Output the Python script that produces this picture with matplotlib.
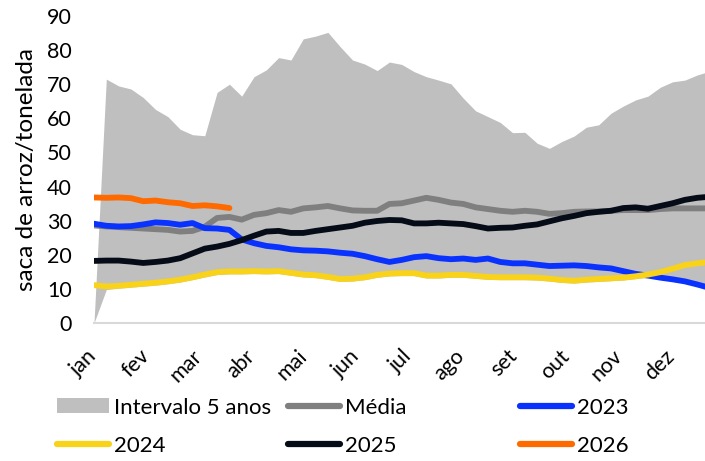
import matplotlib
matplotlib.use("Agg")
import matplotlib.pyplot as plt
from matplotlib.patches import Patch
from matplotlib.lines import Line2D
import numpy as np

plt.rcParams['font.family'] = ['Lato', 'DejaVu Sans']

# ---------------- data (weekly, starting at first week of jan) ----------------
months = ["jan", "fev", "mar", "abr", "mai", "jun", "jul", "ago", "set", "out", "nov", "dez"]

band_upper = [0, 71.5, 69.5, 68.6, 66.1, 62.6, 60.5, 56.8, 55.2, 54.9, 67.6, 70.0, 66.5,
              72.2, 74.2, 77.8, 77.1, 83.3, 84.1, 85.2, 81.0, 77.1, 75.9, 74.0, 76.5, 75.8,
              73.7, 72.2, 71.2, 70.1, 65.9, 62.2, 60.5, 58.8, 55.8, 55.9, 52.7, 51.2, 53.2,
              54.8, 57.4, 58.1, 61.5, 63.6, 65.4, 66.5, 69.1, 70.7, 71.2, 72.7, 73.8]
band_lower = [0, 9.8, 10.2, 10.5, 10.8, 11.1, 11.5, 12.0, 12.7, 13.5, 14.2, 14.4, 14.4,
              14.5, 14.4, 14.5, 14.0, 13.5, 13.3, 12.8, 12.2, 12.3, 12.7, 13.4, 13.8, 13.9,
              13.9, 13.2, 13.2, 13.4, 13.4, 13.1, 12.8, 12.7, 12.7, 12.7, 12.6, 12.3, 11.9,
              11.7, 12.0, 12.2, 12.4, 12.6, 13.0, 13.4, 12.8, 12.3, 11.7, 10.8, 9.8]
media = [28.6, 28.3, 28.1, 27.9, 27.7, 27.5, 27.3, 26.8, 27.0, 28.2, 30.8, 31.1, 30.3,
         31.7, 32.2, 33.1, 32.6, 33.6, 33.9, 34.3, 33.6, 33.0, 32.9, 32.9, 34.9, 35.1,
         35.9, 36.7, 36.1, 35.3, 34.9, 33.9, 33.4, 32.9, 32.6, 32.9, 32.6, 32.0, 32.2,
         32.6, 32.7, 32.7, 32.9, 33.1, 33.1, 33.1, 33.4, 33.6, 33.6, 33.6, 33.6]
y2023 = [29.1, 28.5, 28.3, 28.4, 28.9, 29.5, 29.3, 28.8, 29.3, 27.8, 27.7, 27.3, 24.5,
         23.4, 22.6, 22.2, 21.6, 21.3, 21.2, 21.0, 20.6, 20.3, 19.6, 18.7, 17.9, 18.5,
         19.3, 19.6, 19.0, 18.7, 18.9, 18.5, 18.9, 17.9, 17.5, 17.5, 17.1, 16.7, 16.8,
         16.9, 16.7, 16.3, 16.0, 15.2, 14.4, 13.9, 13.3, 12.8, 12.2, 11.3, 10.3]
y2024 = [11.1, 10.7, 10.9, 11.2, 11.5, 11.8, 12.2, 12.7, 13.4, 14.2, 14.9, 15.1, 15.1,
         15.2, 15.1, 15.2, 14.7, 14.2, 14.0, 13.5, 12.9, 13.0, 13.4, 14.1, 14.5, 14.6,
         14.6, 13.9, 13.9, 14.1, 14.1, 13.8, 13.5, 13.4, 13.4, 13.4, 13.3, 13.0, 12.6,
         12.4, 12.7, 12.9, 13.1, 13.3, 13.7, 14.2, 14.9, 15.9, 17.0, 17.5, 17.9]
y2025 = [18.2, 18.3, 18.3, 18.0, 17.6, 17.9, 18.3, 19.0, 20.4, 21.8, 22.4, 23.2, 24.3,
         25.6, 26.8, 27.0, 26.4, 26.4, 27.0, 27.5, 28.0, 28.5, 29.4, 29.9, 30.2, 30.1,
         29.2, 29.2, 29.4, 29.2, 29.0, 28.4, 27.7, 27.9, 28.0, 28.5, 28.9, 29.8, 30.7,
         31.4, 32.2, 32.6, 32.9, 33.7, 33.9, 33.5, 34.3, 35.1, 36.1, 36.7, 37.0]
y2026 = [36.8, 36.7, 36.8, 36.6, 35.7, 35.9, 35.4, 35.1, 34.3, 34.5, 34.2, 33.7]

labels = ["Intervalo 5 anos", "Média", "2023", "2024", "2025", "2026"]
colors = {"band": "#bfbfbf", "media": "#7f7f7f", "2023": "#0a32ff",
          "2024": "#f8d31a", "2025": "#060b18", "2026": "#ff6a00"}

# ---------------- figure ----------------
W, H = 705, 461
fig = plt.figure(figsize=(W / 100, H / 100), dpi=100)
ax = fig.add_axes([94 / W, 1 - 323 / H, 611 / W, 307 / H])

weeks = np.arange(len(band_upper))
ax.fill_between(weeks, band_lower, band_upper, color=colors["band"], lw=0, zorder=1)

lw = 4.2
common = dict(lw=lw, solid_capstyle="round", solid_joinstyle="round")
ax.plot(np.arange(len(media)), media, color=colors["media"], zorder=2, **common)
ax.plot(np.arange(len(y2023)), y2023, color=colors["2023"], zorder=3, **common)
ax.plot(np.arange(len(y2024)), y2024, color=colors["2024"], zorder=4, **common)
ax.plot(np.arange(len(y2025)), y2025, color=colors["2025"], zorder=5, **common)
ax.plot(np.arange(len(y2026)), y2026, color=colors["2026"], zorder=6, **common)

week_px = 12.31
ax.set_xlim(0, 611 / week_px)
ax.set_ylim(0, 90)

ax.set_yticks(np.arange(0, 91, 10))
ax.tick_params(axis="y", length=0, pad=16, labelsize=15.5, colors="#000000")

first_tick = (101 - 94) / week_px
month_step = 52.5 / week_px
ax.set_xticks([first_tick + i * month_step for i in range(len(months))])
ax.set_xticklabels(months, rotation=45, ha="right", va="top", fontsize=15.5)
ax.tick_params(axis="x", length=0, pad=16.5)

for s in ["top", "right", "left"]:
    ax.spines[s].set_visible(False)
ax.spines["bottom"].set_color("#d9d9d9")
ax.spines["bottom"].set_linewidth(1.5)

ax.set_ylabel("saca de arroz/tonelada", fontsize=17.5)
ax.yaxis.set_label_coords((37 - 94) / 611, 0.5)

# ---------------- legends (three columns, two rows) ----------------
def lh(c):
    return Line2D([], [], color=c, lw=4.5, solid_capstyle="round")

cols = [
    ([Patch(facecolor=colors["band"], edgecolor="none"), lh(colors["2024"])], [labels[0], labels[3]], 57),
    ([lh(colors["media"]), lh(colors["2025"])], [labels[1], labels[4]], 288),
    ([lh(colors["2023"]), lh(colors["2026"])], [labels[2], labels[5]], 520),
]
for hs, ls, xpx in cols:
    fig.legend(hs, ls, loc="upper left", bbox_to_anchor=(xpx / W, 1 - 397.5 / H),
               frameon=False, borderpad=0, borderaxespad=0, handlelength=2.35,
               handletextpad=0.2, labelspacing=0.82, fontsize=16, handleheight=0.66)

fig.savefig("out.png", dpi=100)
